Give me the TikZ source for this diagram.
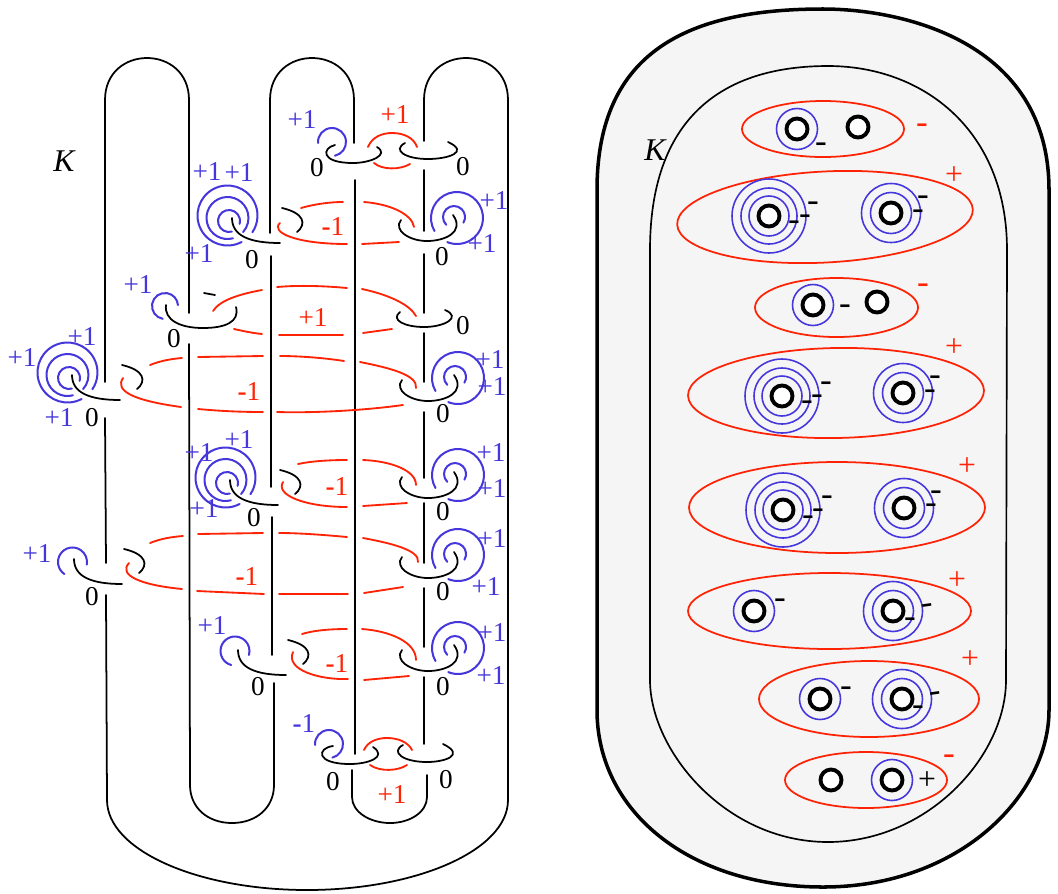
\documentclass[tikz,border=0pt]{standalone}
\usepackage{fontspec}
\setmainfont{Liberation Serif}
\definecolor{loopblue}{RGB}{70,55,220}
\definecolor{loopred}{RGB}{255,35,5}
\definecolor{solidgray}{RGB}{245,245,245}
\tikzset{
    knot/.style={line width=1pt, black, line cap=round},
    bluearc/.style={line width=1.15pt, loopblue, line cap=round},
    redarc/.style={line width=1.05pt, loopred, line cap=round},
    bluering/.style={line width=0.9pt, loopblue},
    redring/.style={line width=1pt, loopred},
    hole/.style={line width=2.2pt, black, fill=white},
    fr/.style={font=\fontsize{15.5}{17}\selectfont, inner sep=0pt},
    bluetext/.style={fr, text=loopblue},
    redtext/.style={fr, text=loopred},
    blacktext/.style={fr, text=black},
    knotname/.style={font=\fontsize{18}{20}\selectfont\itshape, inner sep=0pt},
    plussign/.style={font=\fontsize{18}{20}\selectfont, inner sep=0pt},
    minussign/.style={font=\fontsize{20}{22}\selectfont, inner sep=0pt, yshift=-1.9pt},
    leftclasp/.pic={
        \draw [knot] (0,0) .. controls (0,18) and (18,25) .. (48,25);
        \draw [knot] (50,-10) .. controls (72,-5) and (75,6) .. (65,14);
    },
    spiralthree/.pic={
        \draw [bluearc] (-3,3) ++(75:11) arc[start angle=75, end angle=375, radius=11];
        \draw [bluearc] (-4.5,0) ++(75:21) arc[start angle=75, end angle=402, radius=21];
        \draw [bluearc] (-4.5,-2.5) ++(62:30) arc[start angle=62, end angle=394, radius=30];
    },
    rightspiral/.pic={
        \draw [knot] (0,0) .. controls (-8,10) and (8,21) .. (26,21) .. controls (44,21) and (64,12) .. (52,-5);
        \draw [bluearc] (56,-2) ++(150:26) arc[start angle=150, end angle=472, radius=26];
        \draw [bluearc] (53,-3) ++(135:11) arc[start angle=135, end angle=391, radius=11];
    }
}
\begin{document}
\begin{tikzpicture}[x=0.02cm, y=-0.02cm]
            \useasboundingbox (0,0) rectangle (1058,893);
            % strands of the knot, left picture
            \draw [knot] (105,382) -- (105,100) .. controls (105,44) and (189,44) .. (189,100) -- (189,313);
            \draw [knot] (189,344) -- (190,785) .. controls (190,808) and (208,823) .. (232,823) .. controls (256,823) and (274,808) .. (274,785) -- (274,683);
            \draw [knot] (272,655) -- (272,517);
            \draw [knot] (271,487) -- (271,256);
            \draw [knot] (270,233) -- (270,100) .. controls (270,44) and (354,44) .. (354,100) -- (354,143);
            \draw [knot] (355,180) -- (355,754);
            \draw [knot] (352,770) -- (352,797) .. controls (352,812) and (370,823) .. (390,823) .. controls (410,823) and (427,812) .. (427,797) -- (427,775);
            \draw [knot] (424,744) -- (424,677);
            \draw [knot] (424,647) -- (424,588);
            \draw [knot] (424,563) -- (424,503);
            \draw [knot] (424,478) -- (424,412);
            \draw [knot] (424,382) -- (424,333);
            \draw [knot] (424,313) -- (424,254);
            \draw [knot] (424,231) -- (424,170);
            \draw [knot] (424,141) -- (424,100) .. controls (424,44) and (508,44) .. (508,100) -- (508,800) .. controls (508,850) and (417,890) .. (307,890) .. controls (197,890) and (107,850) .. (107,800) -- (106,595);
            \draw [knot] (106,563) -- (105,418);
            % clasps
            \pic at (232,218) {leftclasp};
            \pic at (72,375) {leftclasp};
            \pic at (230,480) {leftclasp};
            \pic at (74,559) {leftclasp};
            \pic at (238,650) {leftclasp};
            \pic at (232,218) {spiralthree};
            \pic at (72,375) {spiralthree};
            \pic at (230,480) {spiralthree};
            \pic at (401,220) {rightspiral};
            \pic at (402,380) {rightspiral};
            \pic at (402,477) {rightspiral};
            \pic at (402,557) {rightspiral};
            \pic at (402,650) {rightspiral};
            \draw [knot] (166,305) .. controls (164,320) and (180,328) .. (203,328) .. controls (225,328) and (240,322) .. (236,307);
            \draw [knot] (204,293) -- (215,295);
            \draw [knot] (400,312) .. controls (390,320) and (405,327) .. (424,327) .. controls (445,327) and (462,317) .. (445,310);
            \draw [knot] (335,145) .. controls (322,148) and (320,163) .. (353,163) .. controls (370,163) and (390,155) .. (377,147);
            \draw [knot] (405,143) .. controls (392,150) and (405,159) .. (428,159) .. controls (448,159) and (470,152) .. (448,142);
            \draw [knot] (333,746) .. controls (317,748) and (315,764) .. (350,764) .. controls (368,764) and (388,757) .. (373,747);
            \draw [knot] (403,745) .. controls (390,752) and (403,762) .. (427,762) .. controls (445,762) and (466,755) .. (443,744);
            % small blue arcs
            \draw [bluearc] (165,306) ++(100:13) arc[start angle=100, end angle=356, radius=13];
            \draw [bluearc] (72.5,562) ++(124:14.5) arc[start angle=124, end angle=370, radius=14.5];
            \draw [bluearc] (235,651) ++(105:14.5) arc[start angle=105, end angle=376, radius=14.5];
            \draw [bluearc] (332,142) ++(176:14) arc[start angle=176, end angle=438, radius=14];
            \draw [bluearc] (329,744) ++(176:14) arc[start angle=176, end angle=436, radius=14];
            % red curves, row by row
            \draw [redarc] (368,147) .. controls (372,137) and (382,133) .. (392,133) .. controls (404,133) and (414,138) .. (417,147);
            \draw [redarc] (374,163) .. controls (382,170) and (400,170) .. (410,164);
            \draw [redarc] (301,208) .. controls (315,204) and (330,202) .. (343,202);
            \draw [redarc] (364,202) .. controls (390,204) and (412,214) .. (414,227);
            \draw [redarc] (280,223) .. controls (270,232) and (295,244) .. (347,244);
            \draw [redarc] (362,244) -- (399,242);
            \draw [redarc] (213,311) .. controls (220,300) and (240,294) .. (262,290);
            \draw [redarc] (277,287) .. controls (300,285) and (325,286) .. (347,288);
            \draw [redarc] (362,289) .. controls (390,295) and (410,305) .. (416,316);
            \draw [redarc] (234,329) .. controls (243,331) and (252,333) .. (262,334);
            \draw [redarc] (279,335) -- (343,335);
            \draw [redarc] (363,333) -- (392,329);
            \draw [redarc] (150,365) .. controls (160,361) and (170,359) .. (182,358);
            \draw [redarc] (198,357) -- (263,356);
            \draw [redarc] (280,356) .. controls (300,356) and (325,358) .. (344,361);
            \draw [redarc] (360,362) .. controls (390,368) and (418,375) .. (416,388);
            \draw [redarc] (123,378) .. controls (115,390) and (130,400) .. (181,407);
            \draw [redarc] (198,409) .. controls (220,411) and (240,412) .. (263,412);
            \draw [redarc] (277,412) .. controls (310,413) and (360,411) .. (403,405);
            \draw [redarc] (298,464) .. controls (312,461) and (330,460) .. (347,460);
            \draw [redarc] (363,460) .. controls (390,461) and (416,470) .. (416,485);
            \draw [redarc] (283,482) .. controls (275,495) and (305,507) .. (347,507);
            \draw [redarc] (363,506) -- (407,503);
            \draw [redarc] (150,543) .. controls (160,539) and (170,537) .. (183,536);
            \draw [redarc] (198,534) -- (263,533);
            \draw [redarc] (279,533) .. controls (300,533) and (325,535) .. (347,537);
            \draw [redarc] (363,538) .. controls (390,543) and (420,550) .. (418,562);
            \draw [redarc] (129,563) .. controls (118,575) and (140,585) .. (182,589);
            \draw [redarc] (197,591) -- (264,594);
            \draw [redarc] (279,594) -- (348,594);
            \draw [redarc] (364,593) -- (403,587);
            \draw [redarc] (302,634) .. controls (315,630) and (332,629) .. (347,629);
            \draw [redarc] (362,629) .. controls (390,631) and (416,642) .. (416,660);
            \draw [redarc] (293,652) .. controls (285,670) and (320,680) .. (348,679);
            \draw [redarc] (364,680) -- (409,676);
            \draw [redarc] (364,750) .. controls (368,741) and (378,738) .. (387,738) .. controls (398,738) and (408,742) .. (412,750);
            \draw [redarc] (370,765) .. controls (380,772) and (398,771) .. (407,765);
            % labels, left picture
            \node [knotname] (kleft) at (64,161) {K};
            \node [bluetext] (ba) at (302,120) {+1};
            \node [bluetext] (bb) at (207,172) {+1};
            \node [bluetext] (bc) at (239,173) {+1};
            \node [bluetext] (bd) at (199,254) {+1};
            \node [bluetext] (be) at (494,201) {+1};
            \node [bluetext] (bf) at (482,244) {+1};
            \node [bluetext] (bg) at (138,285) {+1};
            \node [bluetext] (bh) at (82,337) {+1};
            \node [bluetext] (bi) at (22,358) {+1};
            \node [bluetext] (bj) at (59,418) {+1};
            \node [bluetext] (bk) at (490,360) {+1};
            \node [bluetext] (bl) at (492,387) {+1};
            \node [bluetext] (bm) at (239,440) {+1};
            \node [bluetext] (bn) at (199,453) {+1};
            \node [bluetext] (bo) at (204,509) {+1};
            \node [bluetext] (bp) at (491,453) {+1};
            \node [bluetext] (bq) at (492,489) {+1};
            \node [bluetext] (br) at (37,554) {+1};
            \node [bluetext] (bs) at (492,538) {+1};
            \node [bluetext] (bt) at (486,586) {+1};
            \node [bluetext] (bu) at (212,625) {+1};
            \node [bluetext] (bv) at (492,632) {+1};
            \node [bluetext] (bw) at (491,675) {+1};
            \node [bluetext] (bx) at (304,723) {{\bfseries -}1};
            \node [redtext] (ra) at (395,115) {+1};
            \node [redtext] (rb) at (333,227) {{\bfseries -}1};
            \node [redtext] (rc) at (313,318) {+1};
            \node [redtext] (rd) at (249,392) {{\bfseries -}1};
            \node [redtext] (re) at (337,487) {{\bfseries -}1};
            \node [redtext] (rf) at (247,577) {{\bfseries -}1};
            \node [redtext] (rg) at (337,663) {{\bfseries -}1};
            \node [redtext] (rh) at (392,794) {+1};
            \node [blacktext] (za) at (317,168) {0};
            \node [blacktext] (zb) at (463,167) {0};
            \node [blacktext] (zc) at (252,260) {0};
            \node [blacktext] (zd) at (442,257) {0};
            \node [blacktext] (ze) at (174,339) {0};
            \node [blacktext] (zf) at (463,326) {0};
            \node [blacktext] (zg) at (92,418) {0};
            \node [blacktext] (zh) at (443,414) {0};
            \node [blacktext] (zi) at (254,518) {0};
            \node [blacktext] (zj) at (443,512) {0};
            \node [blacktext] (zk) at (92,597) {0};
            \node [blacktext] (zl) at (443,592) {0};
            \node [blacktext] (zm) at (258,687) {0};
            \node [blacktext] (zn) at (443,687) {0};
            \node [blacktext] (zo) at (333,782) {0};
            \node [blacktext] (zp) at (446,780) {0};
            % solid torus, right picture
            \draw [line width=2pt, fill=solidgray] (597,190) .. controls (597,50) and (690,9) .. (823,9) .. controls (900,9) and (1049,40) .. (1049,190) -- (1049,710) .. controls (1049,795) and (960,887) .. (823,887) .. controls (690,887) and (597,812) .. (597,710) -- cycle;
            \draw [line width=0.95pt] (650,250) .. controls (650,120) and (720,66) .. (828,66) .. controls (923,66) and (1007,130) .. (1007,250) -- (1006,680) .. controls (1006,757) and (927,842) .. (828,842) .. controls (725,842) and (650,750) .. (650,680) -- cycle;
            \node [knotname] (kright) at (655,150) {K};
            % first row
            \draw [redring] (823,129) ellipse (81 and 28);
            \draw [bluering] (797,129) circle (20.5);
            \draw [hole] (797,129) circle (10.5);
            \draw [hole] (858,127) circle (10.5);
            \node [minussign] (ma) at (821,144) {-};
            \node [minussign, text=loopred] (mb) at (922,125) {-};
            % second row
            \draw [redring, rotate around={3:(825,217)}] (825,217) ellipse (148 and 45.5);
            \draw [bluering] (769,216) circle (20);
            \draw [bluering] (769,216) circle (28);
            \draw [bluering] (769,216) circle (37);
            \draw [hole] (769,216) circle (10.5);
            \draw [bluering] (891,213) circle (20.5);
            \draw [bluering] (891,213) circle (29.5);
            \draw [hole] (891,213) circle (10.5);
            \node [minussign] (mc) at (794,222) {-};
            \node [minussign] (md) at (805,216) {-};
            \node [minussign] (me) at (813,203) {-};
            \node [minussign] (mf) at (918,211) {-};
            \node [minussign] (mg) at (923,197) {-};
            \node [plussign, text=loopred] (pa) at (954,176) {+};
            % third row
            \draw [redring] (836.5,307.5) ellipse (81.5 and 29.5);
            \draw [bluering] (813,305) circle (20.5);
            \draw [hole] (813,305) circle (10.5);
            \draw [hole] (877,302) circle (10.5);
            \node [minussign] (mh) at (845,306) {-};
            \node [minussign, text=loopred] (mi) at (923,285) {-};
            % fourth row
            \draw [redring, rotate around={1:(836,393)}] (836,393) ellipse (148 and 45);
            \draw [bluering] (782,396) circle (20);
            \draw [bluering] (782,396) circle (28);
            \draw [bluering] (782,396) circle (37);
            \draw [hole] (782,396) circle (10.5);
            \draw [bluering] (903,393) circle (20.5);
            \draw [bluering] (903,393) circle (29.5);
            \draw [hole] (903,393) circle (10.5);
            \node [minussign] (mj) at (807,402) {-};
            \node [minussign] (mk) at (817,396) {-};
            \node [minussign] (ml) at (826,383) {-};
            \node [minussign] (mm) at (930,391) {-};
            \node [minussign] (mn) at (935,377) {-};
            \node [plussign, text=loopred] (pb) at (954,348) {+};
            % fifth row
            \draw [redring] (837,507.5) ellipse (148 and 45.5);
            \draw [bluering] (783,510) circle (20);
            \draw [bluering] (783,510) circle (28);
            \draw [bluering] (783,510) circle (37);
            \draw [hole] (783,510) circle (10.5);
            \draw [bluering] (904,508) circle (20.5);
            \draw [bluering] (904,508) circle (29.5);
            \draw [hole] (904,508) circle (10.5);
            \node [minussign] (mo) at (808,517) {-};
            \node [minussign] (mp) at (818,510) {-};
            \node [minussign] (mq) at (827,497) {-};
            \node [minussign] (mr) at (931,505) {-};
            \node [minussign] (ms) at (936,492) {-};
            \node [plussign, text=loopred] (pc) at (967,467) {+};
            % sixth row
            \draw [redring] (829.5,611) ellipse (141.5 and 38);
            \draw [bluering] (754,611) circle (20.5);
            \draw [hole] (754,611) circle (10.5);
            \draw [bluering] (893,611) circle (20.5);
            \draw [bluering] (893,611) circle (29.5);
            \draw [hole] (893,611) circle (10.5);
            \node [minussign] (mt) at (780,600) {-};
            \node [minussign] (mu) at (910,619) {-};
            \node [minussign, rotate=8] (mv) at (928,606) {-};
            \node [plussign, text=loopred] (pd) at (957,581) {+};
            % seventh row
            \draw [redring] (869,699) ellipse (110 and 38);
            \draw [bluering] (820,699) circle (20.5);
            \draw [hole] (820,699) circle (10.5);
            \draw [bluering] (902,699) circle (20.5);
            \draw [bluering] (902,699) circle (29.5);
            \draw [hole] (902,699) circle (10.5);
            \node [minussign] (mw) at (846,688) {-};
            \node [minussign] (mx) at (918,707) {-};
            \node [minussign, rotate=8] (my) at (936,694) {-};
            \node [plussign, text=loopred] (pe) at (970,660) {+};
            % last row
            \draw [redring] (866,780) ellipse (81 and 28);
            \draw [hole] (831,780) circle (10.5);
            \draw [bluering] (892,780) circle (20.5);
            \draw [hole] (892,780) circle (10.5);
            \node [plussign] (pf) at (927,781) {+};
            \node [minussign, text=loopred] (mz) at (949,756) {-};
\end{tikzpicture}
\end{document}
